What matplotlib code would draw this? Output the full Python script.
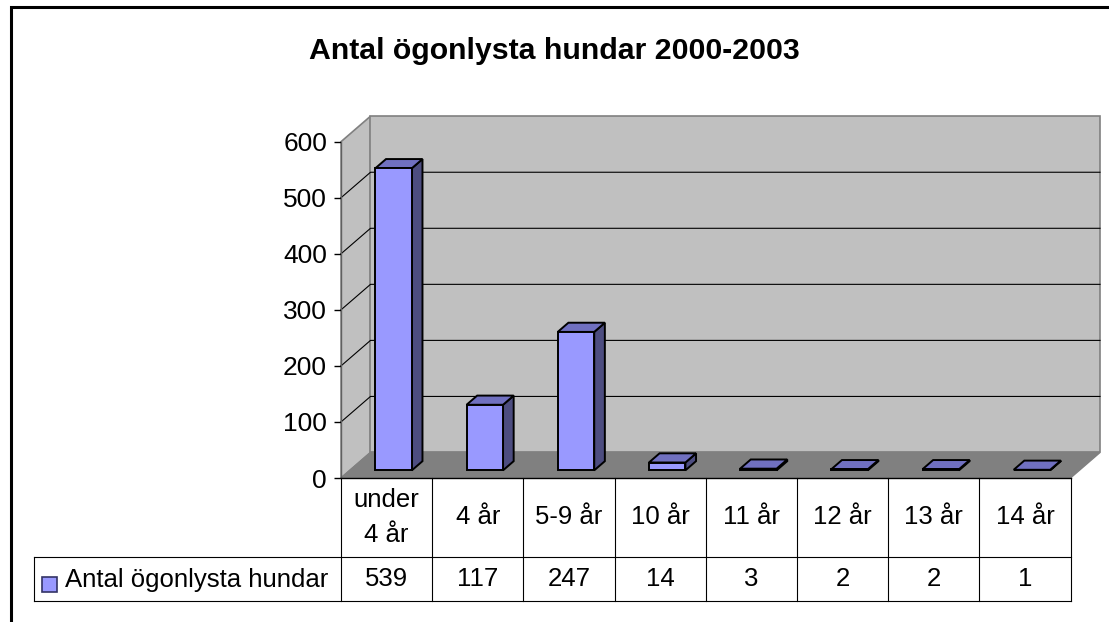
import matplotlib.pyplot as plt
from matplotlib.patches import Polygon, Rectangle

plt.rcParams['font.family'] = ['Liberation Sans', 'DejaVu Sans']

title = 'Antal ögonlysta hundar 2000-2003'
series_name = 'Antal ögonlysta hundar'
categories = ['under\n4 år', '4 år', '5-9 år', '10 år', '11 år', '12 år', '13 år', '14 år']
values = [539, 117, 247, 14, 3, 2, 2, 1]
yticks = [0, 100, 200, 300, 400, 500, 600]

W, H = 1109, 622
front_col = '#9999FF'
side_col = '#4D4D80'
top_col = '#7070C0'

fig = plt.figure(figsize=(W / 100, H / 100), dpi=100)

# outer chart frame (right/bottom run off the image)
fig.patches.append(Rectangle((10.5 / W, -0.1), 1.2, 1 - 7 / H + 0.1, transform=fig.transFigure,
                             fill=False, ec='black', lw=2.2))

ax = fig.add_axes([341 / W, 1 - 478 / H, 729.5 / W, 336.3 / H])
n = len(categories)
ax.set_xlim(0, n)
ax.set_ylim(0, 600)
ax.patch.set_visible(False)
for s in ax.spines.values():
    s.set_visible(False)

# depth of the 3d box in data units
DX, DY = 0.3235, 45.5
top = yticks[-1]

def poly(pts, fc, ec, lw=1.0, z=1):
    ax.add_patch(Polygon(pts, closed=True, fc=fc, ec=ec, lw=lw, zorder=z, clip_on=False,
                         joinstyle='miter'))

poly([(0, 0), (0, top), (DX, top + DY), (DX, DY)], '#C0C0C0', '#808080', 1.2)
poly([(DX, DY), (DX, top + DY), (n + DX, top + DY), (n + DX, DY)], '#C0C0C0', '#808080', 1.2)
poly([(0, 0), (n, 0), (n + DX, DY), (DX, DY)], '#808080', '#808080', 1.0)

for v in yticks[1:-1]:
    ax.plot([0, DX, n + DX], [v, v + DY, v + DY], color='black', lw=0.8, zorder=2, clip_on=False)

# bars
f0, f1 = 0.30, 0.66
bw = 0.4
for i, v in enumerate(values):
    x0 = i + 0.48 - bw / 2 + f0 * DX
    y0 = f0 * DY
    ddx, ddy = (f1 - f0) * DX, (f1 - f0) * DY
    poly([(x0 + bw, y0), (x0 + bw + ddx, y0 + ddy), (x0 + bw + ddx, y0 + v + ddy), (x0 + bw, y0 + v)],
         side_col, 'black', 1.4, 3)
    poly([(x0, y0 + v), (x0 + bw, y0 + v), (x0 + bw + ddx, y0 + v + ddy), (x0 + ddx, y0 + v + ddy)],
         top_col, 'black', 1.4, 3)
    poly([(x0, y0), (x0 + bw, y0), (x0 + bw, y0 + v), (x0, y0 + v)], front_col, 'black', 1.4, 3)

ax.plot([0, 0], [0, top], color='#606060', lw=1.0, zorder=2)
ax.set_yticks(yticks)
ax.set_xticks([])
ax.tick_params(axis='y', length=5, width=1, color='black', labelsize=19, pad=5)

# data table below the plot
tr = ax.get_xaxis_transform()
r1, r2 = -79 / 336.3, -123 / 336.3
xl = (34 - 341) / (729.5 / n)
lc = 'black'
ax.plot([0, n], [0, 0], color=lc, lw=1.0, transform=tr, clip_on=False, zorder=4)
for yy in (r1, r2):
    ax.plot([xl, n], [yy, yy], color=lc, lw=0.8, transform=tr, clip_on=False)
for i in range(n + 1):
    ax.plot([i, i], [0, r2], color=lc, lw=0.8, transform=tr, clip_on=False)
ax.plot([xl, xl], [r1, r2], color=lc, lw=0.8, transform=tr, clip_on=False)

for i, (c, v) in enumerate(zip(categories, values)):
    ax.text(i + 0.5, r1 / 2, c, transform=tr, ha='center', va='center', fontsize=18.5,
            linespacing=1.55)
    ax.text(i + 0.5, (r1 + r2) / 2, str(v), transform=tr, ha='center', va='center', fontsize=18.5)

fig.patches.append(Rectangle((42 / W, 1 - 592 / H), 14.5 / W, 15 / H, transform=fig.transFigure,
                             fc=front_col, ec='#333366', lw=1.2))
fig.text(65 / W, 1 - 580 / H, series_name, ha='left', va='center', fontsize=18.5)

fig.text(0.5, 1 - 59.3 / H, title, ha='center', va='baseline', fontsize=21.8, fontweight='bold')

fig.savefig('out.png', dpi=100)
